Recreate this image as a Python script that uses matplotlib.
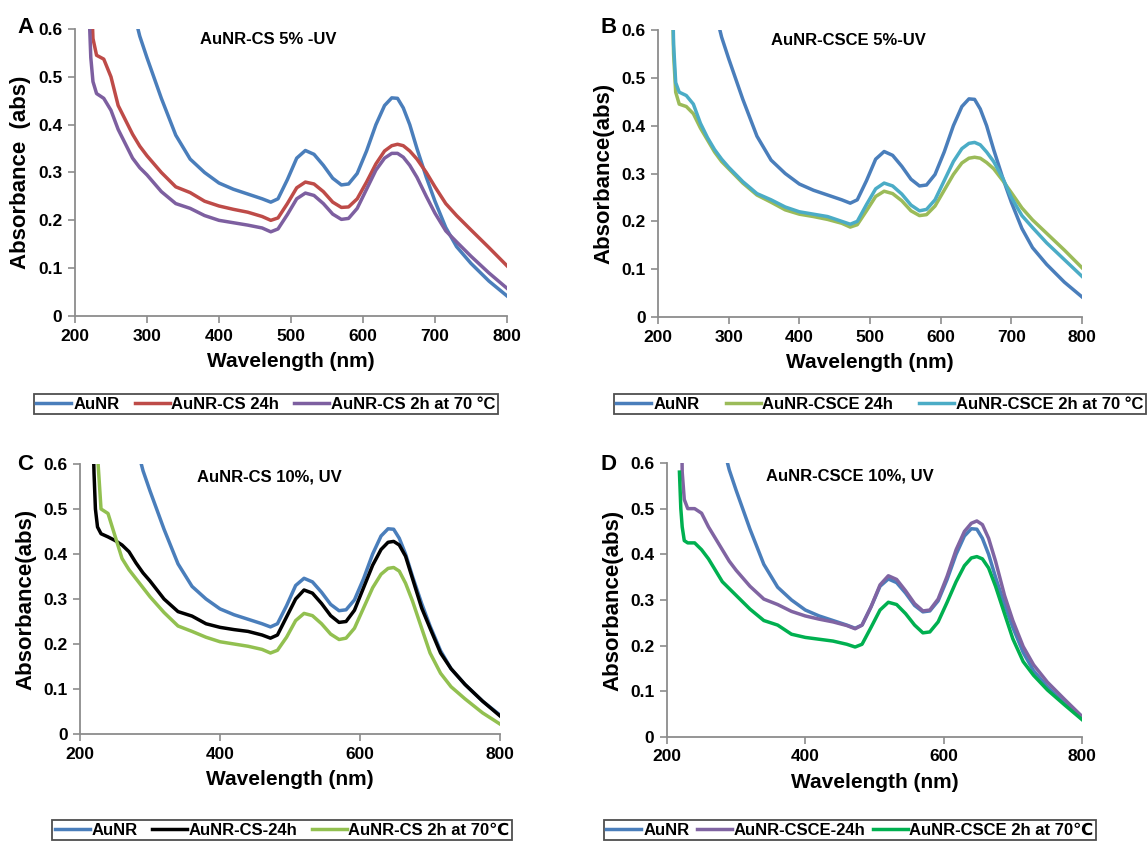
import numpy as np
import matplotlib
matplotlib.use("Agg")
import matplotlib.pyplot as plt
from matplotlib.ticker import FuncFormatter

plt.rcParams['font.family'] = ['Liberation Sans', 'DejaVu Sans']
plt.rcParams['font.weight'] = 'bold'

# wavelength grid (nm) shared by every curve
wl = [218, 220, 222, 225, 230, 240, 250, 260, 270, 280, 290, 300, 320, 340, 360, 380,
      400, 420, 440, 460, 472, 482, 495, 508, 520, 532, 545, 558, 570, 580, 592, 605,
      618, 630, 640, 648, 656, 665, 675, 688, 700, 715, 730, 750, 775, 800]

# bare gold nanorods (same reference curve in all four panels)
aunr = [2.0, 1.9, 1.8, 1.65, 1.45, 1.2, 1.02, 0.88, 0.76, 0.645, 0.585, 0.54, 0.455, 0.378, 0.328, 0.3,
        0.278, 0.265, 0.255, 0.245, 0.238, 0.245, 0.285, 0.33, 0.346, 0.338, 0.315, 0.288, 0.274, 0.276, 0.298, 0.345,
        0.4, 0.44, 0.456, 0.455, 0.435, 0.4, 0.35, 0.29, 0.24, 0.185, 0.145, 0.11, 0.073, 0.042]

# panel A
cs5_24h = [1.0, 0.85, 0.7, 0.58, 0.545, 0.537, 0.5, 0.44, 0.41, 0.38, 0.355, 0.335, 0.3, 0.27, 0.258, 0.24,
           0.23, 0.223, 0.217, 0.208, 0.2, 0.205, 0.235, 0.268, 0.28, 0.276, 0.26, 0.238, 0.227, 0.228, 0.245, 0.28,
           0.318, 0.345, 0.356, 0.359, 0.356, 0.345, 0.328, 0.3, 0.27, 0.235, 0.21, 0.18, 0.143, 0.105]
cs5_2h = [0.9, 0.62, 0.54, 0.49, 0.465, 0.455, 0.43, 0.39, 0.36, 0.33, 0.31, 0.295, 0.26, 0.235, 0.225, 0.21,
          0.2, 0.195, 0.19, 0.184, 0.176, 0.182, 0.212, 0.245, 0.257, 0.252, 0.235, 0.213, 0.202, 0.204, 0.225, 0.265,
          0.305, 0.33, 0.34, 0.34, 0.332, 0.315, 0.29, 0.25, 0.215, 0.178, 0.155, 0.125, 0.09, 0.058]

# panel B
csce5_24h = [0.9, 0.7, 0.55, 0.47, 0.445, 0.44, 0.425, 0.395, 0.37, 0.345, 0.325, 0.31, 0.28, 0.255, 0.24, 0.224,
             0.215, 0.21, 0.204, 0.196, 0.188, 0.193, 0.222, 0.252, 0.263, 0.258, 0.243, 0.222, 0.212, 0.214, 0.232, 0.265,
             0.298, 0.322, 0.332, 0.334, 0.332, 0.323, 0.31, 0.285, 0.26, 0.228, 0.203, 0.175, 0.14, 0.103]
csce5_2h = [0.9, 0.72, 0.57, 0.49, 0.47, 0.463, 0.445, 0.405, 0.375, 0.35, 0.33, 0.313, 0.283, 0.258, 0.245, 0.23,
            0.22, 0.215, 0.21, 0.2, 0.194, 0.2, 0.235, 0.268, 0.28, 0.274, 0.257, 0.234, 0.222, 0.225, 0.245, 0.285,
            0.325, 0.352, 0.363, 0.365, 0.36, 0.345, 0.325, 0.29, 0.25, 0.212, 0.187, 0.155, 0.12, 0.085]

# panel C
cs10_24h = [0.7, 0.58, 0.5, 0.46, 0.445, 0.438, 0.43, 0.42, 0.405, 0.38, 0.358, 0.34, 0.3, 0.272, 0.262, 0.245,
            0.237, 0.232, 0.228, 0.22, 0.213, 0.22, 0.26, 0.3, 0.32, 0.313, 0.29, 0.263, 0.248, 0.25, 0.275, 0.325,
            0.375, 0.41, 0.426, 0.428, 0.42, 0.395, 0.345, 0.28, 0.235, 0.18, 0.145, 0.11, 0.073, 0.04]
cs10_2h = [1.0, 0.9, 0.8, 0.62, 0.5, 0.49, 0.44, 0.39, 0.365, 0.345, 0.325, 0.305, 0.27, 0.24, 0.228, 0.215,
           0.205, 0.2, 0.195, 0.188, 0.18, 0.186, 0.215, 0.252, 0.268, 0.263, 0.245, 0.222, 0.21, 0.213, 0.235, 0.28,
           0.325, 0.355, 0.368, 0.37, 0.362, 0.335, 0.295, 0.235, 0.18, 0.135, 0.105, 0.078, 0.047, 0.022]

# panel D
csce10_24h = [1.0, 0.8, 0.58, 0.52, 0.5, 0.5, 0.49, 0.46, 0.435, 0.41, 0.385, 0.365, 0.33, 0.302, 0.29, 0.275,
              0.265, 0.258, 0.252, 0.244, 0.237, 0.245, 0.285, 0.333, 0.353, 0.345, 0.32, 0.292, 0.276, 0.278, 0.302, 0.352,
              0.41, 0.45, 0.468, 0.473, 0.465, 0.435, 0.385, 0.31, 0.255, 0.198, 0.158, 0.12, 0.082, 0.045]
csce10_2h = [0.58, 0.5, 0.46, 0.43, 0.425, 0.425, 0.41, 0.39, 0.365, 0.34, 0.325, 0.31, 0.28, 0.255, 0.245, 0.225,
             0.218, 0.214, 0.21, 0.203, 0.197, 0.203, 0.24, 0.278, 0.295, 0.29, 0.27, 0.245, 0.228, 0.23, 0.252, 0.295,
             0.34, 0.375, 0.392, 0.395, 0.39, 0.37, 0.33, 0.27, 0.215, 0.165, 0.135, 0.103, 0.07, 0.038]

panels = [
    dict(letter='A', title='AuNR-CS 5% -UV', ylabel='Absorbance  (abs)',
         xticks=[200, 300, 400, 500, 600, 700, 800],
         series=[(aunr, 'AuNR', '#4a7ebb'), (cs5_24h, 'AuNR-CS 24h', '#be4b48'),
                 (cs5_2h, 'AuNR-CS 2h at 70 °C', '#7d5fa0')],
         rect=[0.0653, 0.6269, 0.3763, 0.3389], title_xy=(468, 0.578), letter_xy=(0.015, 0.967),
         leg=(0.0296, 0.5089, 0.4042, 0.0272)),
    dict(letter='B', title='AuNR-CSCE 5%-UV', ylabel='Absorbance(abs)',
         xticks=[200, 300, 400, 500, 600, 700, 800],
         series=[(aunr, 'AuNR', '#4a7ebb'), (csce5_24h, 'AuNR-CSCE 24h', '#9bbb59'),
                 (csce5_2h, 'AuNR-CSCE 2h at 70 °C', '#4bacc6')],
         rect=[0.5732, 0.6257, 0.3693, 0.3389], title_xy=(469, 0.578), letter_xy=(0.523, 0.967),
         leg=(0.5348, 0.5089, 0.4634, 0.0272)),
    dict(letter='C', title='AuNR-CS 10%, UV', ylabel='Absorbance(abs)',
         xticks=[200, 400, 600, 800],
         series=[(aunr, 'AuNR', '#4a7ebb'), (cs10_24h, 'AuNR-CS-24h', '#000000'),
                 (cs10_2h, 'AuNR-CS 2h at 70℃', '#92c050')],
         rect=[0.0697, 0.1334, 0.3659, 0.3188], title_xy=(471, 0.571), letter_xy=(0.015, 0.452),
         leg=(0.0453, 0.0059, 0.4007, 0.0283)),
    dict(letter='D', title='AuNR-CSCE 10%, UV', ylabel='Absorbance(abs)',
         xticks=[200, 400, 600, 800],
         series=[(aunr, 'AuNR', '#4a7ebb'), (csce10_24h, 'AuNR-CSCE-24h', '#8064a2'),
                 (csce10_2h, 'AuNR-CSCE 2h at 70℃', '#00b050')],
         rect=[0.581, 0.1299, 0.3615, 0.3235], title_xy=(465, 0.571), letter_xy=(0.523, 0.452),
         leg=(0.5261, 0.0059, 0.4286, 0.0283)),
]

fig = plt.figure(figsize=(11.48, 8.47), dpi=100)

for p in panels:
    ax = fig.add_axes(p['rect'])
    for y, label, color in p['series']:
        ax.plot(wl, y, color=color, lw=2.5, label=label, solid_joinstyle='round')
    ax.set_xlim(200, 800)
    ax.set_ylim(0, 0.6)
    ax.set_xticks(p['xticks'])
    ax.set_yticks([0, 0.1, 0.2, 0.3, 0.4, 0.5, 0.6])
    ax.yaxis.set_major_formatter(FuncFormatter(lambda v, pos: '0' if v == 0 else f'{v:.1f}'))
    for s in ['top', 'right']:
        ax.spines[s].set_visible(False)
    for s in ['left', 'bottom']:
        ax.spines[s].set_color('#8c8c8c')
        ax.spines[s].set_linewidth(1.3)
    ax.tick_params(direction='out', length=5, width=1.2, color='#8c8c8c', labelsize=12.5, pad=4)
    for t in ax.get_xticklabels() + ax.get_yticklabels():
        t.set_fontweight('bold')
    ax.set_xlabel('Wavelength (nm)', fontsize=15, fontweight='bold', labelpad=6)
    ax.set_ylabel(p['ylabel'], fontsize=16, fontweight='bold', labelpad=5)
    ax.text(p['title_xy'][0], p['title_xy'][1], p['title'], fontsize=12, fontweight='bold',
            ha='center', va='center')
    fig.text(p['letter_xy'][0], p['letter_xy'][1], p['letter'], fontsize=16, fontweight='bold',
             ha='left', va='center')
    leg = ax.legend(loc='center', bbox_to_anchor=p['leg'], bbox_transform=fig.transFigure,
                    mode='expand', ncol=3, fontsize=12, frameon=True, fancybox=False,
                    edgecolor='#222222', borderpad=0.15, handlelength=2.1, handletextpad=0.1,
                    columnspacing=0.3, borderaxespad=0)
    leg.get_frame().set_linewidth(1.3)
    for t in leg.get_texts():
        t.set_fontweight('bold')

fig.savefig('out.png', dpi=100)
